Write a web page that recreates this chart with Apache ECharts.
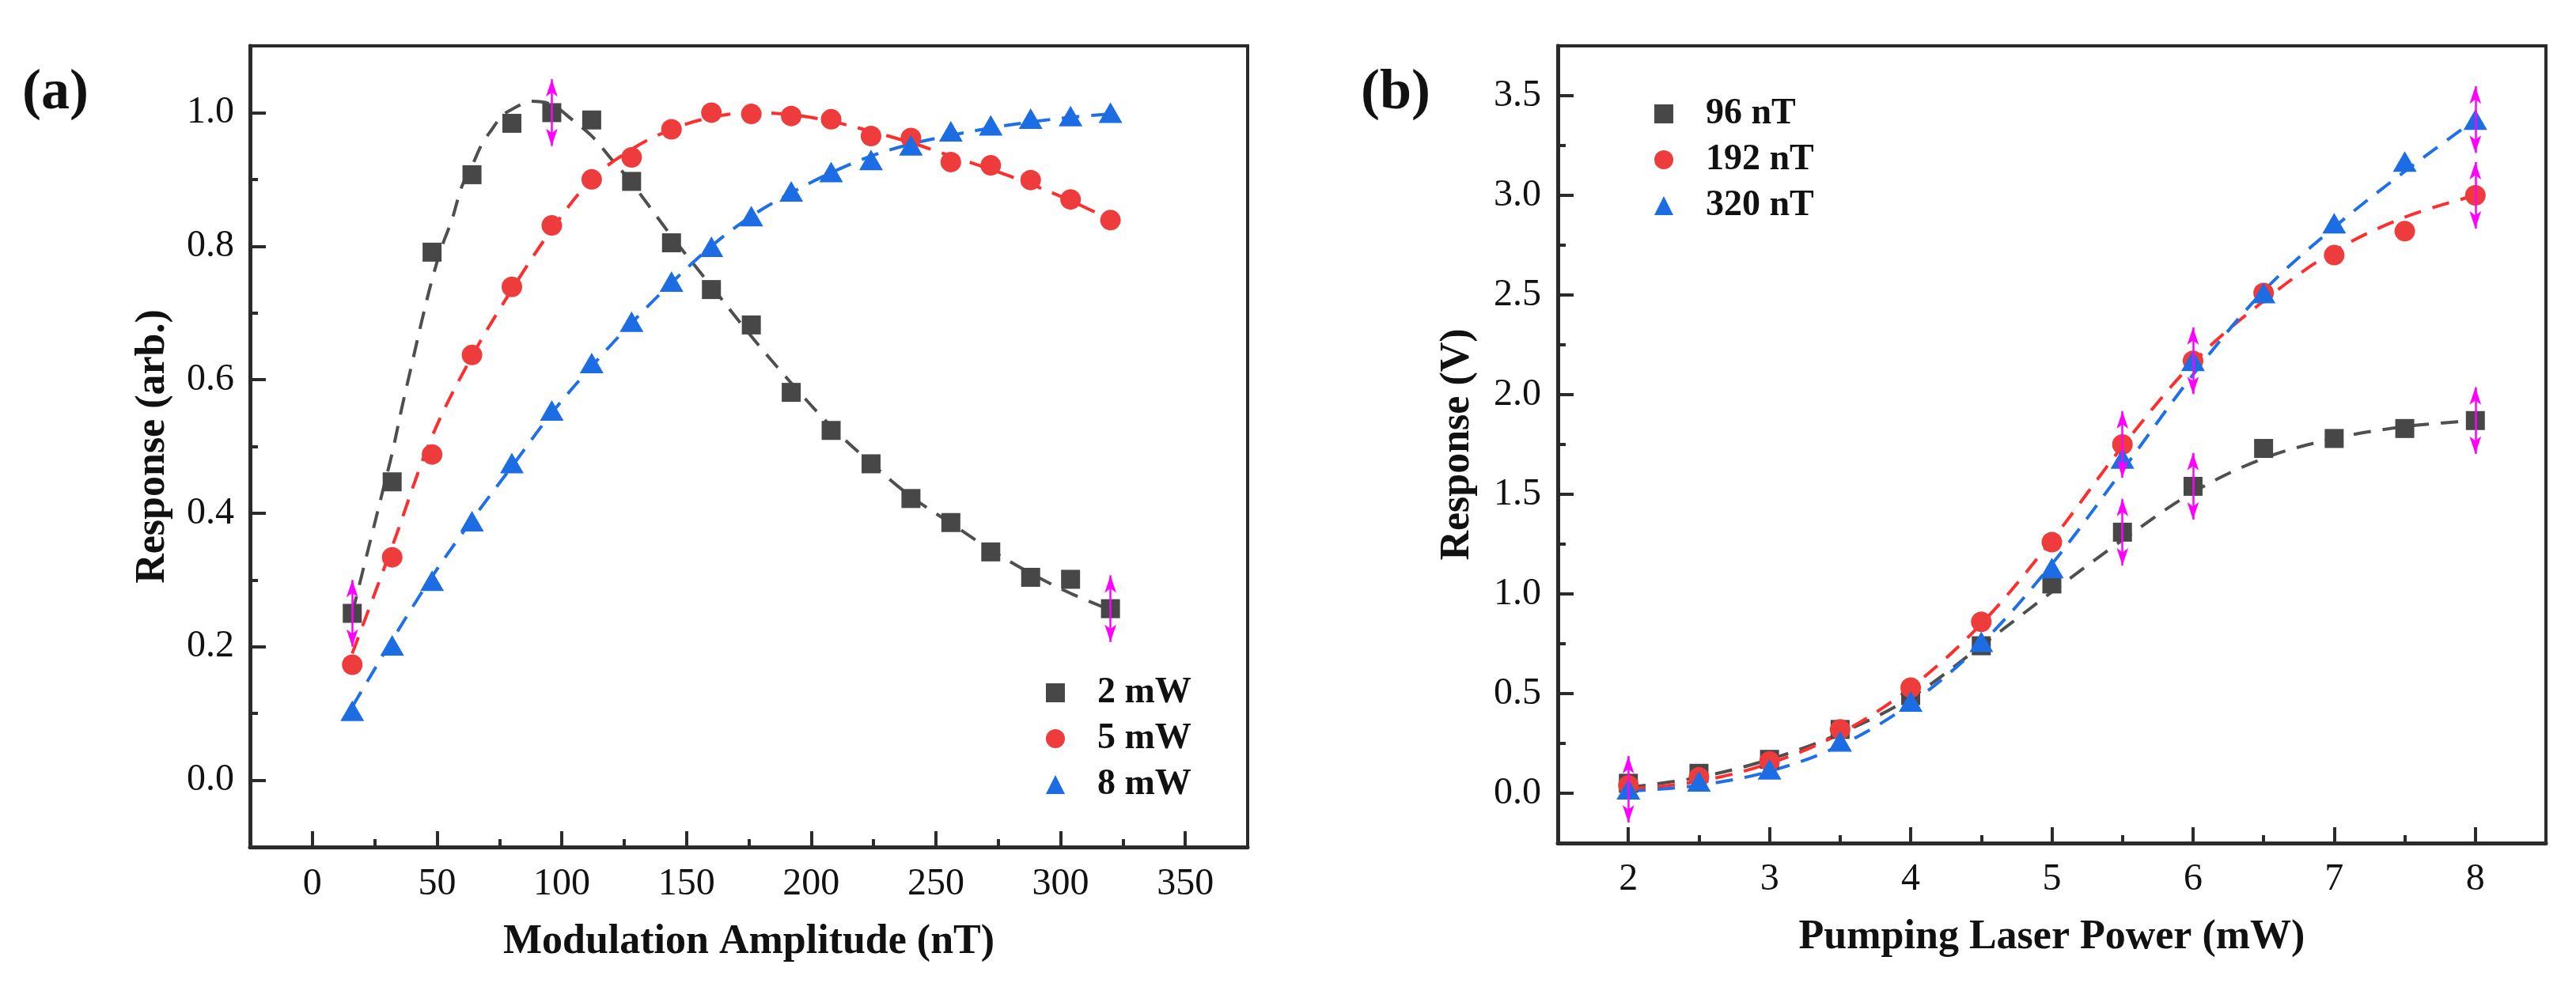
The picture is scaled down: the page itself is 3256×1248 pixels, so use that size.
<!DOCTYPE html>
<html>
<head>
<meta charset="utf-8">
<script src="https://cdn.jsdelivr.net/npm/echarts@6/dist/echarts.min.js"></script>
<style>
html,body{margin:0;padding:0;background:#fff;}
#chart{width:3256px;height:1248px;}
</style>
</head>
<body>
<div id="chart"></div>
<script>
// ---------- Panel (a) data ----------
const aX = [16,32,48,64,80,96,112,128,144,160,176,192,208,224,240,256,272,288,304,320];
const a2mW = [0.250,0.447,0.791,0.907,0.984,1.000,0.989,0.897,0.805,0.735,0.682,0.581,0.524,0.474,0.422,0.386,0.342,0.304,0.301,0.257];
const a5mW = [0.173,0.334,0.488,0.637,0.739,0.831,0.900,0.933,0.975,1.000,0.998,0.995,0.990,0.965,0.962,0.926,0.921,0.899,0.870,0.839];
const a8mW = [0.104,0.202,0.299,0.388,0.475,0.554,0.625,0.687,0.747,0.799,0.845,0.882,0.911,0.929,0.951,0.972,0.981,0.991,0.995,1.000];
// fitted (dashed) curves
const aFit2X = [16,20,24,28,32,36,40,44,48,52,56,60,64,68,72,76,80,88,96,104,112,120,128,144,160,176,192,208,224,240,256,272,288,304,320];
const aFit2Y = [0.25,0.31,0.37,0.43,0.49,0.56,0.625,0.69,0.75,0.80,0.84,0.89,0.92,0.953,0.975,0.995,1.005,1.017,1.012,0.99,0.965,0.93,0.895,0.815,0.74,0.665,0.595,0.53,0.475,0.425,0.385,0.345,0.31,0.28,0.255];
const aFit5Y = [0.19,0.35,0.515,0.635,0.735,0.825,0.90,0.945,0.975,0.993,1.0,0.997,0.987,0.972,0.955,0.935,0.915,0.893,0.868,0.84];
const aFit8Y = [0.11,0.21,0.305,0.39,0.47,0.55,0.62,0.685,0.745,0.80,0.845,0.88,0.91,0.935,0.953,0.966,0.977,0.986,0.993,0.998];
const aErrIdx2mW = [0,5,19];
const aErrHalf = 0.05;
const aXTicks = [0,50,100,150,200,250,300,350];
const aXMinor = [25,75,125,175,225,275,325];
const aYTicks = [0,0.2,0.4,0.6,0.8,1.0];
const aYMinor = [0.1,0.3,0.5,0.7,0.9];

// ---------- Panel (b) data ----------
const bX = [2,2.5,3,3.5,4,4.5,5,5.5,6,6.5,7,7.5,8];
const b96 = [0.05,0.10,0.17,0.32,0.49,0.74,1.05,1.31,1.54,1.73,1.78,1.83,1.87];
const b192 = [0.04,0.08,0.16,0.32,0.53,0.86,1.26,1.75,2.17,2.51,2.70,2.82,3.00];
const b320 = [0.02,0.06,0.12,0.26,0.46,0.76,1.13,1.68,2.17,2.51,2.86,3.17,3.38];
const bFit96 = [0.03,0.08,0.17,0.30,0.48,0.74,1.01,1.27,1.51,1.68,1.78,1.84,1.87];
const bFit192 = [0.02,0.06,0.15,0.30,0.53,0.85,1.27,1.74,2.16,2.47,2.72,2.89,3.00];
const bFit320 = [0.01,0.04,0.11,0.24,0.45,0.75,1.15,1.62,2.10,2.52,2.84,3.12,3.38];
const bErrIdx96 = [7,8,12];
const bErrIdx192 = [7,12];
const bErrIdx320 = [0,8,12];
const bErrHalf = 0.167;
const bXTicks = [2,3,4,5,6,7,8];
const bXMinor = [2.5,3.5,4.5,5.5,6.5,7.5];
const bYTicks = [0,0.5,1.0,1.5,2.0,2.5,3.0,3.5];
const bYMinor = [0.25,0.75,1.25,1.75,2.25,2.75,3.25];

const namesA = ['2 mW','5 mW','8 mW'];
const namesB = ['96 nT','192 nT','320 nT'];

// ---------- styles ----------
const SERIF = '"Liberation Serif", "Times New Roman", serif';
const cGray = '#474747', cRed = '#ee3b3b', cBlue = '#1c6de4';
const lGray = '#4f4f4f', lRed = '#ff2d2d', lBlue = '#1f70e8';
const cErr = '#ff00ff';
const axisColor = '#2b2b2b';

function pairs(xs, ys){ return xs.map((x,i)=>[x, ys[i]]); }

function mainAxis(grid, min, max, ticks, fmt, name, nameGap, margin){
  return {
    type:'value', gridIndex:grid, min:min, max:max,
    axisLine:{show:true, onZero:false, lineStyle:{color:axisColor, width:5}},
    axisTick:{show:true, inside:true, length:20, lineStyle:{color:axisColor, width:4}, customValues:ticks},
    axisLabel:{show:true, customValues:ticks, formatter:fmt, margin:margin,
      fontSize:48, fontFamily:SERIF, color:'#111'},
    splitLine:{show:false}, minorTick:{show:false},
    name:name, nameLocation:'middle', nameGap:nameGap,
    nameTextStyle:{fontSize:52, fontWeight:'bold', fontFamily:SERIF, color:'#111'}
  };
}
function minorAxis(grid, min, max, ticks, pos){
  return {
    type:'value', gridIndex:grid, min:min, max:max, position:pos, offset:0,
    axisLine:{show:false, onZero:false},
    axisTick:{show:true, inside:true, length:10, lineStyle:{color:axisColor, width:4}, customValues:ticks},
    axisLabel:{show:false}, splitLine:{show:false}
  };
}
function scatter(name, xi, yi, xs, ys, sym, size, color, errIdx, half){
  return {
    type:'scatter', name:name, xAxisIndex:xi, yAxisIndex:yi,
    data:pairs(xs, ys), symbol:sym, symbolSize:size,
    itemStyle:{color:color, opacity:1}, z:4,
    markLine:{
      silent:true, animation:false, symbol:['arrow','arrow'], symbolSize:[11,22],
      label:{show:false}, emphasis:{disabled:true},
      lineStyle:{color:cErr, width:2.5, type:'solid', opacity:1}, z:10,
      data: errIdx.map(i => [{coord:[xs[i], ys[i]-half]}, {coord:[xs[i], ys[i]+half]}])
    }
  };
}
function fit(xi, yi, xs, ys, color){
  return {
    type:'line', xAxisIndex:xi, yAxisIndex:yi, data:pairs(xs, ys),
    smooth:0.35, showSymbol:false, symbol:'none', z:2,
    lineStyle:{color:color, width:4, type:[22,15]}
  };
}
const legendText = {fontSize:46, fontWeight:'bold', fontFamily:SERIF, color:'#111', lineHeight:46, padding:[0,0,0,36]};

const option = {
  animation:false,
  backgroundColor:'#fff',
  grid:[
    {left:316, top:58, width:1261, height:1013, show:true, borderColor:axisColor, borderWidth:4, backgroundColor:'transparent'},
    {left:1969, top:58, width:1249, height:1008, show:true, borderColor:axisColor, borderWidth:4, backgroundColor:'transparent'}
  ],
  xAxis:[
    mainAxis(0, -25, 375, aXTicks, v=>String(v), 'Modulation Amplitude (nT)', 95, 23),
    minorAxis(0, -25, 375, aXMinor, 'bottom'),
    mainAxis(1, 1.5, 8.5, bXTicks, v=>String(v), 'Pumping Laser Power (mW)', 94, 22),
    minorAxis(1, 1.5, 8.5, bXMinor, 'bottom')
  ],
  yAxis:[
    mainAxis(0, -0.1, 1.1, aYTicks, v=>v.toFixed(1), 'Response (arb.)', 96, 20),
    minorAxis(0, -0.1, 1.1, aYMinor, 'left'),
    mainAxis(1, -0.25, 3.75, bYTicks, v=>v.toFixed(1), 'Response (V)', 100, 21),
    minorAxis(1, -0.25, 3.75, bYMinor, 'left')
  ],
  legend:[
    {data:[{name:namesA[0], icon:'rect'},{name:namesA[1], icon:'circle'},{name:namesA[2], icon:'triangle'}],
     orient:'vertical', left:1322, top:853, itemWidth:24, itemHeight:24, itemGap:12, padding:0,
     selectedMode:false, textStyle:legendText},
    {data:[{name:namesB[0], icon:'rect'},{name:namesB[1], icon:'circle'},{name:namesB[2], icon:'triangle'}],
     orient:'vertical', left:2091, top:121, itemWidth:24, itemHeight:24, itemGap:12, padding:0,
     selectedMode:false, textStyle:legendText}
  ],
  graphic:[
    {type:'text', left:28, top:82, style:{text:'(a)', font:'bold 72px "Liberation Serif"', fill:'#111'}},
    {type:'text', left:1720, top:82, style:{text:'(b)', font:'bold 72px "Liberation Serif"', fill:'#111'}}
  ],
  series:[
    fit(0,0, aFit2X, aFit2Y, lGray),
    fit(0,0, aX, aFit5Y, lRed),
    fit(0,0, aX, aFit8Y, lBlue),
    scatter(namesA[0], 0,0, aX, a2mW, 'rect', 24, cGray, aErrIdx2mW, aErrHalf),
    scatter(namesA[1], 0,0, aX, a5mW, 'circle', 26, cRed, [], aErrHalf),
    scatter(namesA[2], 0,0, aX, a8mW, 'triangle', [30,26], cBlue, [], aErrHalf),
    fit(2,2, bX, bFit96, lGray),
    fit(2,2, bX, bFit192, lRed),
    fit(2,2, bX, bFit320, lBlue),
    scatter(namesB[0], 2,2, bX, b96, 'rect', 24, cGray, bErrIdx96, bErrHalf),
    scatter(namesB[1], 2,2, bX, b192, 'circle', 26, cRed, bErrIdx192, bErrHalf),
    scatter(namesB[2], 2,2, bX, b320, 'triangle', [30,26], cBlue, bErrIdx320, bErrHalf)
  ]
};
const chart = echarts.init(document.getElementById('chart'), null, {renderer:'canvas'});
chart.setOption(option);
</script>
</body>
</html>
